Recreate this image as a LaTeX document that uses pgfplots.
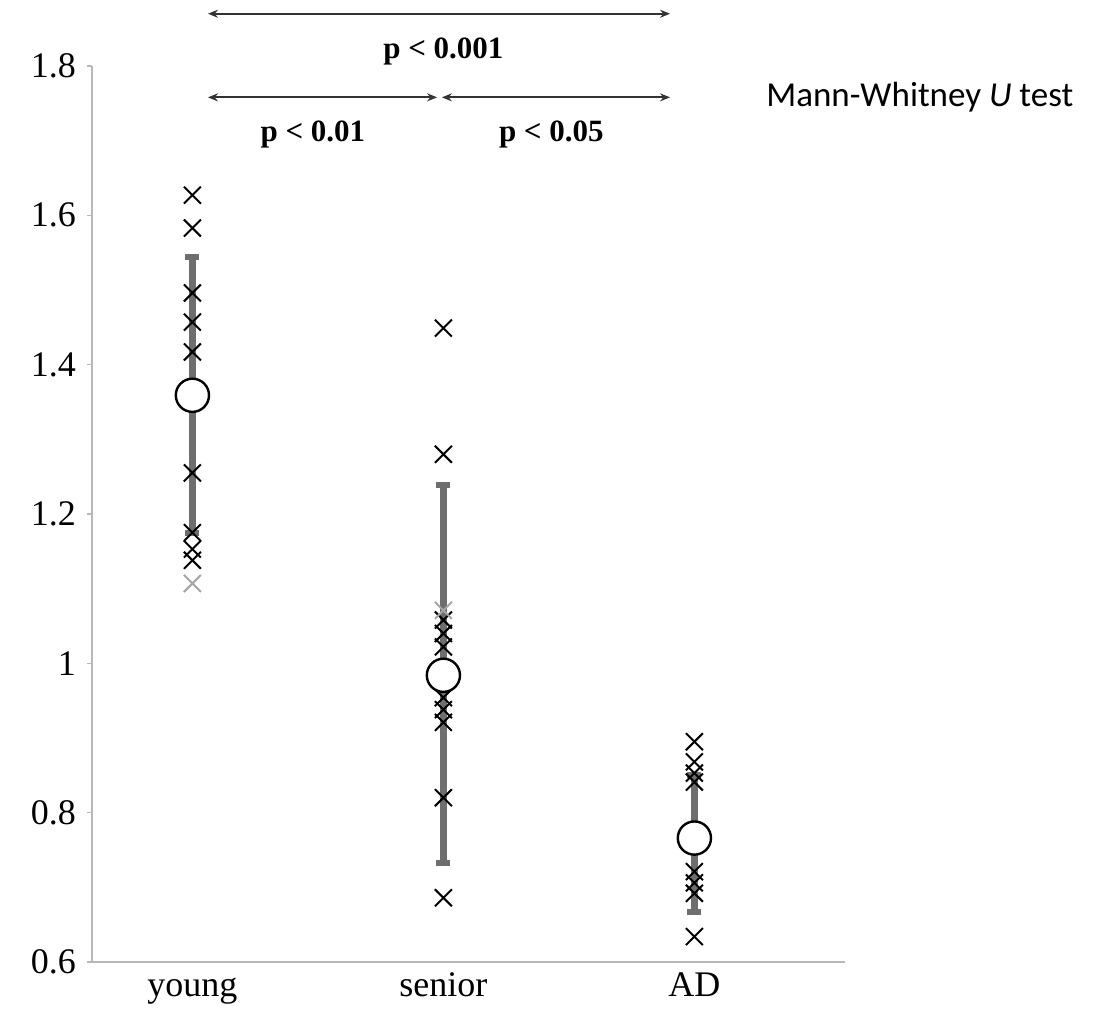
\documentclass[border=0pt]{standalone}
\usepackage{fontspec}
\setmainfont{Liberation Serif}
\newfontfamily\calibri{Carlito}
\usepackage{pgfplots}
\pgfplotsset{compat=1.18}
\usetikzlibrary{arrows.meta}

\definecolor{bargray}{HTML}{6E6E6E}
\definecolor{axgray}{HTML}{B8B8B8}

\begin{document}
\begin{tikzpicture}
% 1 px of the reference = 0.5pt
\useasboundingbox (-46pt,-25.5pt) rectangle (502.5pt,481pt);
\begin{axis}[
  scale only axis,
  width=376.5pt, height=448pt,
  xmin=0.6, xmax=3.6,
  ymin=0.6, ymax=1.8,
  clip=false,
  axis x line*=bottom, axis y line*=left,
  axis line style={draw=axgray, line width=0.6pt, -},
  xtick={1,2,3},
  xticklabels={young, senior, AD},
  ytick={0.6,0.8,1,1.2,1.4,1.6,1.8},
  x tick style={draw=none},
  y tick style={draw=axgray, line width=0.6pt},
  tick align=outside,
  major tick length=2.5pt,
  /pgf/number format/assume math mode=true,
  tick label style={font=\fontsize{18}{21}\selectfont},
  yticklabel style={xshift=-2pt},
  xticklabel style={text height=12pt, text depth=4pt, yshift=1pt},
]

% individual subjects
\addplot[only marks, mark=x, mark size=6pt, mark options={line width=1pt, draw=black}]
  table {
x y
1 1.627
1 1.583
1 1.496
1 1.457
1 1.417
1 1.255
1 1.175
1 1.153
1 1.138
2 1.449
2 1.280
2 1.058
2 1.040
2 1.022
2 0.954
2 0.938
2 0.921
2 0.820
2 0.686
3 0.895
3 0.868
3 0.853
3 0.841
3 0.721
3 0.706
3 0.692
3 0.634
};

% lighter crosses
\addplot[only marks, mark=x, mark size=6pt, mark options={line width=1pt, draw=black!35}]
  table {
x y
1 1.107
2 1.071
};

% mean +- SD
\addplot[only marks, mark=none,
  error bars/.cd, y dir=both, y explicit,
  error bar style={draw=bargray, line width=3.5pt},
  error mark options={draw=bargray, line width=3pt, mark size=3.5pt, rotate=90}]
  table[x=x, y=y, y error plus=ep, y error minus=em] {
x y ep em
1 1.359 0.185 0.184
2 0.984 0.255 0.252
3 0.766 0.084 0.099
};

\addplot[only marks, mark=*, mark size=8.3pt,
  mark options={fill=white, draw=black, line width=1.2pt}]
  table {
x y
1 1.359
2 0.984
3 0.766
};

% significance brackets
\draw[{Stealth[length=5pt,width=4pt]}-{Stealth[length=5pt,width=4pt]}, line width=1pt, black!80]
  (axis cs:1.062,1.870) -- (axis cs:2.903,1.870);
\draw[{Stealth[length=5pt,width=4pt]}-{Stealth[length=5pt,width=4pt]}, line width=1pt, black!80]
  (axis cs:1.062,1.758) -- (axis cs:1.975,1.758);
\draw[{Stealth[length=5pt,width=4pt]}-{Stealth[length=5pt,width=4pt]}, line width=1pt, black!80]
  (axis cs:1.994,1.758) -- (axis cs:2.903,1.758);
\node[font=\fontsize{15.5}{18}\selectfont\bfseries] at (axis cs:2.0,1.819) {p < 0.001};
\node[font=\fontsize{15.5}{18}\selectfont\bfseries] at (axis cs:1.48,1.708) {p < 0.01};
\node[font=\fontsize{15.5}{18}\selectfont\bfseries] at (axis cs:2.43,1.708) {p < 0.05};
\node[font=\fontsize{17.5}{21}\selectfont\calibri] at (axis cs:3.898,1.758) {Mann-Whitney \textit{U} test};

\end{axis}
\end{tikzpicture}
\end{document}
